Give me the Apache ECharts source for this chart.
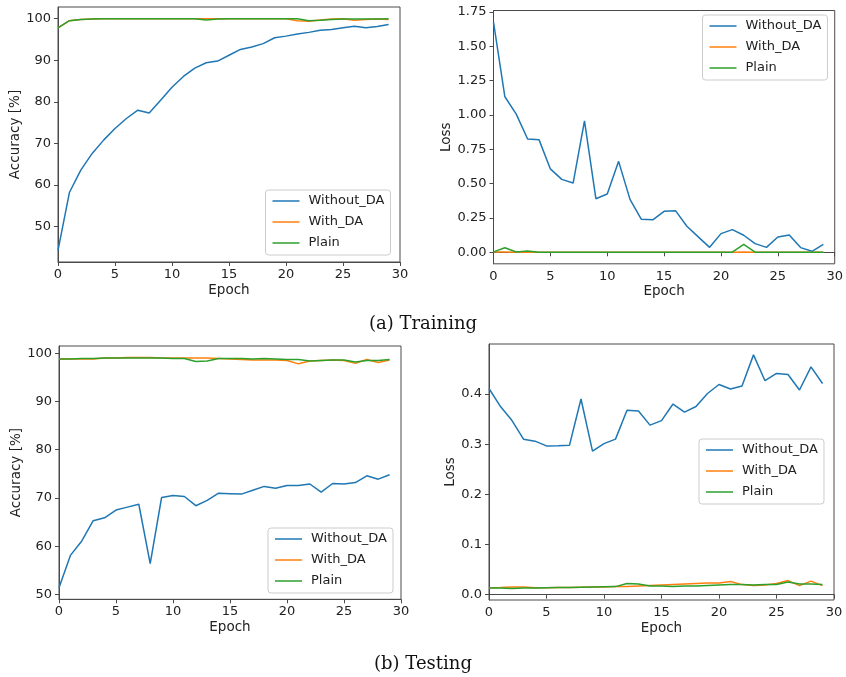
<!DOCTYPE html>
<html>
<head>
<meta charset="utf-8">
<script src="https://cdn.jsdelivr.net/npm/echarts@6/dist/echarts.min.js"></script>
<style>
html,body{margin:0;padding:0;background:#fff;}
#chart{width:846px;height:677px;}
</style>
</head>
<body>
<div id="chart"></div>
<script>
// ---- data ----
const epochs = [0,1,2,3,4,5,6,7,8,9,10,11,12,13,14,15,16,17,18,19,20,21,22,23,24,25,26,27,28,29];
const seriesNames = ['Without_DA', 'With_DA', 'Plain'];

const trainAccWithout = [44.3,58.2,63.6,67.6,70.8,73.6,76.0,78.0,77.3,80.4,83.5,86.1,88.1,89.4,89.8,91.2,92.6,93.2,94.0,95.4,95.8,96.3,96.7,97.2,97.4,97.8,98.2,97.8,98.1,98.6];
const trainAccWith    = [97.8,99.5,99.8,99.9,100,100,100,100,100,100,100,100,100,100,100,100,100,100,100,100,100,99.5,99.4,99.7,99.9,100,99.6,99.8,99.9,99.8];
const trainAccPlain   = [97.8,99.5,99.8,99.9,100,100,100,100,100,100,100,100,100,99.7,99.9,100,100,100,100,100,100,100,99.5,99.6,99.8,99.9,99.9,99.9,99.9,100];

const trainLossWithout = [1.676,1.132,1.006,0.825,0.820,0.607,0.531,0.504,0.957,0.390,0.424,0.662,0.385,0.240,0.236,0.298,0.303,0.190,0.112,0.036,0.136,0.165,0.124,0.063,0.036,0.111,0.126,0.034,0.007,0.058];
const trainLossWith    = [0.003,0.002,0.001,0.002,0.001,0.001,0.001,0.001,0.001,0.001,0.001,0.001,0.001,0.001,0.001,0.001,0.001,0.001,0.001,0.001,0.001,0.001,0.002,0.001,0.001,0.001,0.001,0.001,0.001,0.001];
const trainLossPlain   = [0.003,0.033,0.002,0.009,0.001,0.001,0.001,0.001,0.001,0.001,0.001,0.001,0.001,0.001,0.001,0.001,0.001,0.001,0.001,0.001,0.001,0.001,0.058,0.001,0.001,0.001,0.001,0.001,0.001,0.001];

const testAccWithout = [51.4,58.1,61.1,65.3,65.9,67.5,68.1,68.7,56.4,70.1,70.5,70.3,68.4,69.5,71.0,70.9,70.8,71.6,72.4,72.0,72.6,72.6,72.9,71.2,73.0,72.9,73.2,74.6,73.9,74.8];
const testAccWith    = [98.8,98.8,98.8,98.8,99.0,99.0,99.1,99.1,99.1,99.0,99.0,99.0,99.0,99.0,98.9,98.8,98.7,98.6,98.6,98.6,98.5,97.8,98.4,98.5,98.6,98.5,97.9,98.7,98.1,98.6];
const testAccPlain   = [98.8,98.8,98.9,98.9,99.0,99.0,99.0,99.0,99.0,99.0,98.9,98.9,98.3,98.4,98.9,98.9,98.9,98.8,98.9,98.8,98.7,98.7,98.4,98.5,98.6,98.6,98.2,98.5,98.5,98.7];

const testLossWithout = [0.411,0.375,0.347,0.310,0.306,0.2965,0.297,0.298,0.390,0.286,0.301,0.310,0.3675,0.366,0.338,0.347,0.380,0.364,0.375,0.401,0.419,0.410,0.416,0.478,0.4265,0.441,0.439,0.408,0.454,0.421];
const testLossWith    = [0.0135,0.014,0.015,0.015,0.0135,0.0135,0.014,0.014,0.0145,0.015,0.015,0.016,0.016,0.017,0.018,0.019,0.020,0.021,0.022,0.023,0.023,0.026,0.020,0.018,0.019,0.022,0.028,0.018,0.027,0.018];
const testLossPlain   = [0.013,0.013,0.012,0.013,0.013,0.0135,0.014,0.014,0.0145,0.015,0.0155,0.016,0.022,0.021,0.017,0.017,0.016,0.017,0.017,0.018,0.019,0.020,0.020,0.019,0.020,0.020,0.025,0.021,0.021,0.020];

// tick labels
const xTicks = [0,5,10,15,20,25,30];
const trainAccTicks = [50,60,70,80,90,100];
const trainLossTicks = [0,0.25,0.5,0.75,1.0,1.25,1.5,1.75];
const testAccTicks = [50,60,70,80,90,100];
const testLossTicks = [0,0.1,0.2,0.3,0.4];

const captions = ['(a) Training', '(b) Testing'];

// ---- chart ----
const colors = ['#1f77b4', '#ff7f0e', '#2ca02c'];
const FONT = 'DejaVu Sans';
const TXT = '#222';
const SPINE = '#4a4a4a';

const grids = [
  {left: 58, top: 7, width: 342, height: 255},
  {left: 493.5, top: 10.5, width: 341.5, height: 253.3},
  {left: 59, top: 346, width: 342, height: 253.3},
  {left: 489, top: 344, width: 345, height: 256}
].map(g => Object.assign({show: true, borderColor: SPINE, borderWidth: 1, backgroundColor: 'transparent'}, g));

function xAxis(i) {
  return {
    type: 'value', gridIndex: i, min: 0, max: 30,
    name: 'Epoch', nameLocation: 'middle', nameGap: 21,
    nameTextStyle: {fontFamily: FONT, fontSize: 13.5, color: TXT},
    axisLine: {show: true, lineStyle: {color: SPINE, width: 1}},
    axisTick: {show: true, inside: false, length: 4, lineStyle: {color: SPINE}, customValues: xTicks},
    axisLabel: {fontFamily: FONT, fontSize: 13, color: TXT, margin: 6, customValues: xTicks},
    splitLine: {show: false}
  };
}
function yAxis(i, name, min, max, ticks, dec, gap) {
  return {
    type: 'value', gridIndex: i, min: min, max: max,
    name: name, nameLocation: 'middle', nameGap: gap, nameRotate: 90,
    nameTextStyle: {fontFamily: FONT, fontSize: 13.5, color: TXT},
    axisLine: {show: true, lineStyle: {color: SPINE, width: 1}},
    axisTick: {show: true, inside: false, length: 4, lineStyle: {color: SPINE}, customValues: ticks},
    axisLabel: {fontFamily: FONT, fontSize: 13, color: TXT, margin: 7, customValues: ticks,
      formatter: v => v.toFixed(dec)},
    splitLine: {show: false}
  };
}

const groups = [
  [trainAccWithout, trainAccWith, trainAccPlain],
  [trainLossWithout, trainLossWith, trainLossPlain],
  [testAccWithout, testAccWith, testAccPlain],
  [testLossWithout, testLossWith, testLossPlain]
];

const series = [];
groups.forEach((g, gi) => {
  g.forEach((arr, si) => {
    series.push({
      type: 'line', name: seriesNames[si], xAxisIndex: gi, yAxisIndex: gi,
      data: epochs.map((e, k) => [e, arr[k]]),
      symbol: 'none', showSymbol: false, smooth: false,
      lineStyle: {color: colors[si], width: 1.5},
      itemStyle: {color: colors[si]},
      animation: false, silent: true
    });
  });
});

function legend(left, top) {
  return {
    orient: 'vertical', left: left, top: top,
    data: seriesNames,
    icon: 'rect', itemWidth: 27, itemHeight: 1.5, itemGap: 5,
    backgroundColor: 'rgba(255,255,255,0.8)', borderColor: '#ccc', borderWidth: 1, borderRadius: 3,
    padding: [3, 6, 4, 7],
    textStyle: {fontFamily: FONT, fontSize: 13, color: TXT, lineHeight: 16, padding: [0, 0, 0, 4]},
    selectedMode: false
  };
}

const option = {
  animation: false,
  color: colors,
  grid: grids,
  xAxis: [xAxis(0), xAxis(1), xAxis(2), xAxis(3)],
  yAxis: [
    yAxis(0, 'Accuracy [%]', 41.5, 102.8, trainAccTicks, 0, 36),
    yAxis(1, 'Loss', -0.0838, 1.76, trainLossTicks, 2, 38),
    yAxis(2, 'Accuracy [%]', 49.0, 101.5, testAccTicks, 0, 35),
    yAxis(3, 'Loss', -0.0107, 0.4997, testLossTicks, 1, 31)
  ],
  legend: [legend(265.5, 190), legend(702.5, 15), legend(268, 528), legend(699, 439)],
  series: series,
  graphic: [
    {type: 'text', left: 'center', top: 315, style: {text: captions[0], font: '18px "DejaVu Serif"', fill: '#111'}},
    {type: 'text', left: 'center', top: 655, style: {text: captions[1], font: '18px "DejaVu Serif"', fill: '#111'}}
  ]
};

const chart = echarts.init(document.getElementById('chart'), null, {renderer: 'canvas'});
chart.setOption(option);
</script>
</body>
</html>
